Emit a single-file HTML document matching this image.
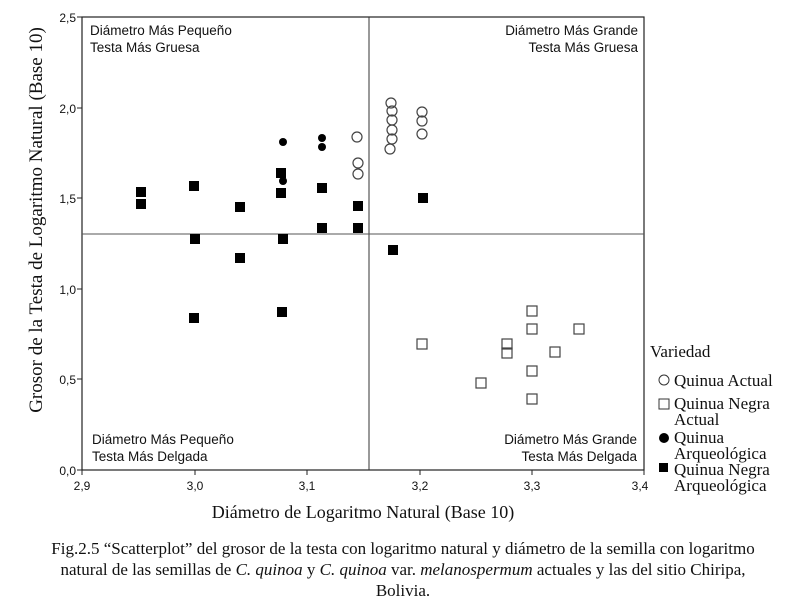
<!DOCTYPE html>
<html><head><meta charset="utf-8"><style>
body{margin:0;background:#fff;width:801px;height:616px;overflow:hidden}
svg{display:block}
.s{font-family:"Liberation Sans",sans-serif;font-size:12px;fill:#111}
.q{font-family:"Liberation Sans",sans-serif;font-size:13.5px;fill:#111}
.r{font-family:"Liberation Serif",serif;fill:#111}
</style></head><body>
<svg width="801" height="616" xmlns="http://www.w3.org/2000/svg">
<rect x="82" y="17" width="562" height="453" fill="none" stroke="#222" stroke-width="1.2"/>
<line x1="369" y1="17" x2="369" y2="470" stroke="#333"/>
<line x1="82" y1="234" x2="644" y2="234" stroke="#555"/>
<g stroke="#222">
<line x1="77" y1="17" x2="82" y2="17"/><line x1="77" y1="108" x2="82" y2="108"/><line x1="77" y1="198" x2="82" y2="198"/><line x1="77" y1="289" x2="82" y2="289"/><line x1="77" y1="379" x2="82" y2="379"/><line x1="77" y1="470" x2="82" y2="470"/>
<line x1="82" y1="470" x2="82" y2="475"/><line x1="195" y1="470" x2="195" y2="475"/><line x1="307" y1="470" x2="307" y2="475"/><line x1="420" y1="470" x2="420" y2="475"/><line x1="532" y1="470" x2="532" y2="475"/><line x1="644" y1="470" x2="644" y2="475"/>
</g>
<g class="s" text-anchor="end">
<text x="76" y="22">2,5</text><text x="76" y="113">2,0</text><text x="76" y="203">1,5</text><text x="76" y="294">1,0</text><text x="76" y="384">0,5</text><text x="76" y="475">0,0</text>
</g>
<g class="s" text-anchor="middle">
<text x="82" y="490">2,9</text><text x="195" y="490">3,0</text><text x="307" y="490">3,1</text><text x="420" y="490">3,2</text><text x="532" y="490">3,3</text><text x="640" y="490">3,4</text>
</g>
<text class="q" x="90" y="35">Diámetro Más Pequeño</text>
<text class="q" x="90" y="52">Testa Más Gruesa</text>
<text class="q" x="638" y="35" text-anchor="end">Diámetro Más Grande</text>
<text class="q" x="638" y="52" text-anchor="end">Testa Más Gruesa</text>
<text class="q" x="92" y="444">Diámetro Más Pequeño</text>
<text class="q" x="92" y="461">Testa Más Delgada</text>
<text class="q" x="637" y="444" text-anchor="end">Diámetro Más Grande</text>
<text class="q" x="637" y="461" text-anchor="end">Testa Más Delgada</text>
<g fill="#000">
<rect x="136" y="187" width="10" height="10"/><rect x="136" y="199" width="10" height="10"/><rect x="189" y="181" width="10" height="10"/><rect x="190" y="234" width="10" height="10"/><rect x="235" y="202" width="10" height="10"/><rect x="235" y="253" width="10" height="10"/><rect x="276" y="168" width="10" height="10"/><rect x="276" y="188" width="10" height="10"/><rect x="278" y="234" width="10" height="10"/><rect x="277" y="307" width="10" height="10"/><rect x="317" y="183" width="10" height="10"/><rect x="317" y="223" width="10" height="10"/><rect x="353" y="201" width="10" height="10"/><rect x="353" y="223" width="10" height="10"/><rect x="189" y="313" width="10" height="10"/><rect x="388" y="245" width="10" height="10"/><rect x="418" y="193" width="10" height="10"/>
<circle cx="283" cy="142" r="4"/><circle cx="283" cy="181" r="4"/><circle cx="322" cy="138" r="4"/><circle cx="322" cy="147" r="4"/>
</g>
<g fill="none" stroke="#444" stroke-width="1.2">
<circle cx="357" cy="137" r="5"/><circle cx="358" cy="163" r="5"/><circle cx="358" cy="174" r="5"/><circle cx="391" cy="103" r="5"/><circle cx="392" cy="111" r="5"/><circle cx="392" cy="120" r="5"/><circle cx="392" cy="130" r="5"/><circle cx="392" cy="139" r="5"/><circle cx="390" cy="149" r="5"/><circle cx="422" cy="112" r="5"/><circle cx="422" cy="121" r="5"/><circle cx="422" cy="134" r="5"/>
<rect x="527" y="306" width="10" height="10"/><rect x="527" y="324" width="10" height="10"/><rect x="574" y="324" width="10" height="10"/><rect x="417" y="339" width="10" height="10"/><rect x="502" y="339" width="10" height="10"/><rect x="502" y="348" width="10" height="10"/><rect x="550" y="347" width="10" height="10"/><rect x="527" y="366" width="10" height="10"/><rect x="476" y="378" width="10" height="10"/><rect x="527" y="394" width="10" height="10"/>
</g>
<text class="r" x="650" y="357" font-size="17">Variedad</text>
<g class="r" font-size="17">
<circle cx="664" cy="380" r="5" fill="none" stroke="#333"/><text x="674" y="386">Quinua Actual</text>
<rect x="659" y="399" width="10" height="10" fill="none" stroke="#333"/><text x="674" y="409">Quinua Negra</text><text x="674" y="425">Actual</text>
<circle cx="664" cy="438" r="5" fill="#000"/><text x="674" y="443">Quinua</text><text x="674" y="459">Arqueológica</text>
<rect x="659" y="463" width="9" height="9" fill="#000"/><text x="674" y="475">Quinua Negra</text><text x="674" y="491">Arqueológica</text>
</g>
<text class="r" x="363" y="518" font-size="18" text-anchor="middle">Diámetro de Logaritmo Natural (Base 10)</text>
<text class="r" font-size="19" text-anchor="middle" transform="translate(42,220) rotate(-90)">Grosor de la Testa de Logaritmo Natural (Base 10)</text>
<g class="r" font-size="17" text-anchor="middle">
<text x="403" y="554">Fig.2.5 “Scatterplot” del grosor de la testa con logaritmo natural y diámetro de la semilla con logaritmo</text>
<text x="403" y="575">natural de las semillas de <tspan font-style="italic">C. quinoa</tspan> y <tspan font-style="italic">C. quinoa</tspan> var. <tspan font-style="italic">melanospermum</tspan> actuales y las del sitio Chiripa,</text>
<text x="403" y="596">Bolivia.</text>
</g>
</svg>
</body></html>
